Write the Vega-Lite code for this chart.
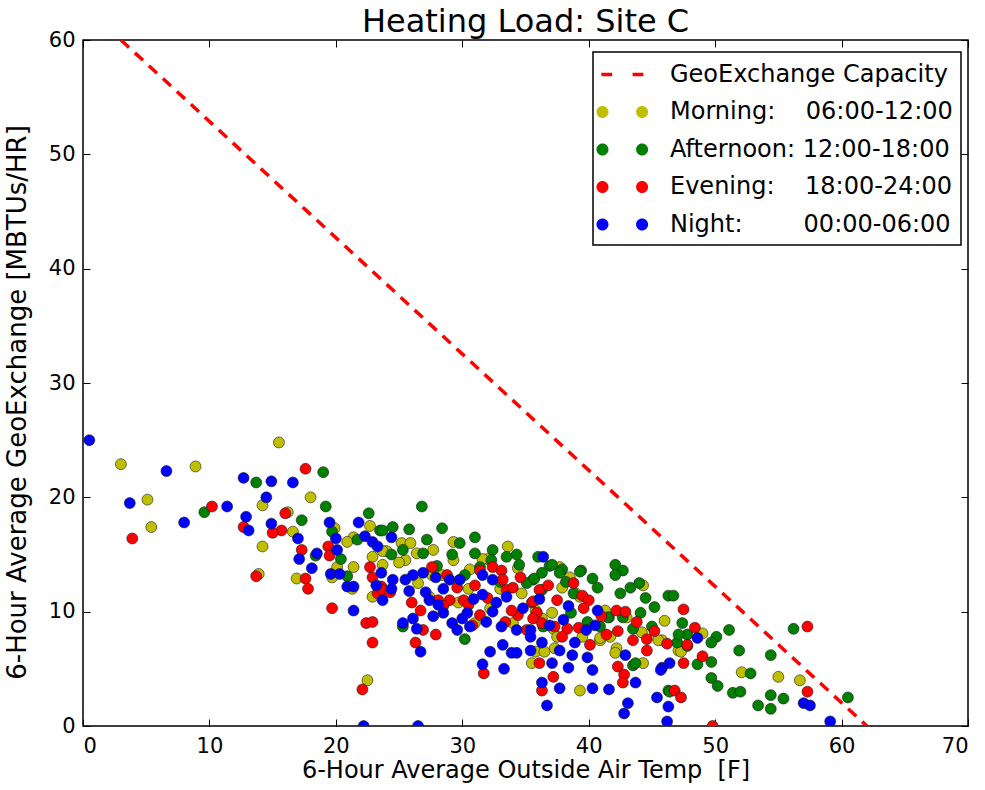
{
  "$schema": "https://vega.github.io/schema/vega-lite/v6.json",
  "width": 885,
  "height": 686,
  "autosize": {"type": "none"},
  "padding": {"left": 83, "top": 40, "right": 17, "bottom": 64},
  "background": "white",
  "title": {"text": "Heating Load: Site C", "font": "DejaVu Sans", "fontSize": 32, "fontWeight": "normal", "color": "black", "anchor": "middle", "offset": -10},
  "config": {
    "view": {"stroke": "black", "strokeWidth": 1.5},
    "axis": {"domain": false, "grid": false, "tickColor": "black", "tickWidth": 1, "tickSize": -7, "labelFont": "DejaVu Sans", "labelFontSize": 21, "labelColor": "black", "titleFont": "DejaVu Sans", "titleFontWeight": "normal", "titleColor": "black"},
    "legend": {"strokeColor": "black", "strokeWidth": 1.5, "fillColor": "white", "padding": 8, "cornerRadius": 0}
  },
  "datasets": {
    "cap": [{"t": 3, "g": 60}, {"t": 62, "g": 0}],
    "pts": [
      {"t":3.0,"g":22.9,"s":"M"},{"t":5.1,"g":19.8,"s":"M"},{"t":5.4,"g":17.4,"s":"M"},{"t":8.9,"g":22.7,"s":"M"},{"t":14.2,"g":19.3,"s":"M"},{"t":14.2,"g":15.7,"s":"M"},{"t":15.5,"g":24.8,"s":"M"},{"t":13.9,"g":13.3,"s":"M"},{"t":18.0,"g":20.0,"s":"M"},{"t":16.2,"g":18.7,"s":"M"},{"t":16.9,"g":12.9,"s":"M"},{"t":16.6,"g":17.0,"s":"M"},{"t":19.9,"g":17.3,"s":"M"},{"t":21.4,"g":16.5,"s":"M"},{"t":22.7,"g":17.5,"s":"M"},{"t":21.4,"g":13.9,"s":"M"},{"t":20.1,"g":13.9,"s":"M"},{"t":19.7,"g":13.0,"s":"M"},{"t":21.3,"g":12.0,"s":"M"},{"t":22.9,"g":11.3,"s":"M"},{"t":22.5,"g":4.0,"s":"M"},{"t":22.9,"g":14.8,"s":"M"},{"t":20.9,"g":16.1,"s":"M"},{"t":25.2,"g":16.0,"s":"M"},{"t":25.9,"g":16.0,"s":"M"},{"t":24.0,"g":15.3,"s":"M"},{"t":25.5,"g":14.5,"s":"M"},{"t":26.4,"g":15.1,"s":"M"},{"t":27.7,"g":15.4,"s":"M"},{"t":29.3,"g":16.1,"s":"M"},{"t":28.4,"g":13.2,"s":"M"},{"t":27.6,"g":13.2,"s":"M"},{"t":33.6,"g":15.7,"s":"M"},{"t":32.0,"g":14.6,"s":"M"},{"t":31.6,"g":14.6,"s":"M"},{"t":34.4,"g":13.8,"s":"M"},{"t":34.7,"g":11.6,"s":"M"},{"t":27.4,"g":11.3,"s":"M"},{"t":29.7,"g":10.8,"s":"M"},{"t":32.2,"g":10.3,"s":"M"},{"t":23.7,"g":15.3,"s":"M"},{"t":23.7,"g":14.1,"s":"M"},{"t":25.0,"g":14.3,"s":"M"},{"t":37.7,"g":13.9,"s":"M"},{"t":44.3,"g":12.3,"s":"M"},{"t":37.9,"g":12.1,"s":"M"},{"t":35.8,"g":10.1,"s":"M"},{"t":41.3,"g":10.1,"s":"M"},{"t":40.9,"g":7.5,"s":"M"},{"t":42.2,"g":6.8,"s":"M"},{"t":45.8,"g":7.5,"s":"M"},{"t":44.2,"g":8.2,"s":"M"},{"t":42.1,"g":6.4,"s":"M"},{"t":35.8,"g":6.5,"s":"M"},{"t":37.3,"g":6.8,"s":"M"},{"t":37.2,"g":8.5,"s":"M"},{"t":36.3,"g":9.4,"s":"M"},{"t":35.5,"g":5.5,"s":"M"},{"t":36.5,"g":6.5,"s":"M"},{"t":39.3,"g":3.1,"s":"M"},{"t":40.9,"g":7.7,"s":"M"},{"t":44.3,"g":5.5,"s":"M"},{"t":45.5,"g":7.5,"s":"M"},{"t":47.1,"g":6.6,"s":"M"},{"t":49.0,"g":8.1,"s":"M"},{"t":47.3,"g":6.5,"s":"M"},{"t":52.1,"g":4.7,"s":"M"},{"t":55.0,"g":4.3,"s":"M"},{"t":56.7,"g":4.0,"s":"M"},{"t":39.3,"g":11.3,"s":"M"},{"t":37.5,"g":7.8,"s":"M"},{"t":37.1,"g":9.9,"s":"M"},{"t":39.5,"g":7.8,"s":"M"},{"t":41.7,"g":7.8,"s":"M"},{"t":29.3,"g":14.5,"s":"M"},{"t":30.6,"g":13.7,"s":"M"},{"t":33.0,"g":12.0,"s":"M"},{"t":38.5,"g":13.0,"s":"M"},{"t":30.5,"g":12.0,"s":"M"},{"t":26.5,"g":12.5,"s":"M"},{"t":31.0,"g":9.0,"s":"M"},{"t":43.0,"g":9.5,"s":"M"},{"t":46.0,"g":9.2,"s":"M"},{"t":34.0,"g":9.0,"s":"M"},{"t":39.0,"g":11.6,"s":"M"},
      {"t":9.6,"g":18.7,"s":"A"},{"t":13.7,"g":21.3,"s":"A"},{"t":19.0,"g":22.2,"s":"A"},{"t":19.2,"g":19.2,"s":"A"},{"t":17.3,"g":18.0,"s":"A"},{"t":19.7,"g":17.0,"s":"A"},{"t":22.6,"g":18.6,"s":"A"},{"t":23.5,"g":17.1,"s":"A"},{"t":20.4,"g":14.6,"s":"A"},{"t":20.9,"g":13.1,"s":"A"},{"t":26.8,"g":19.2,"s":"A"},{"t":24.5,"g":17.4,"s":"A"},{"t":23.7,"g":17.1,"s":"A"},{"t":25.8,"g":17.2,"s":"A"},{"t":28.4,"g":17.3,"s":"A"},{"t":25.3,"g":15.4,"s":"A"},{"t":24.4,"g":15.0,"s":"A"},{"t":26.9,"g":15.1,"s":"A"},{"t":29.2,"g":15.0,"s":"A"},{"t":31.0,"g":16.5,"s":"A"},{"t":32.4,"g":15.4,"s":"A"},{"t":31.0,"g":15.1,"s":"A"},{"t":31.4,"g":13.9,"s":"A"},{"t":32.3,"g":14.5,"s":"A"},{"t":34.3,"g":15.0,"s":"A"},{"t":34.5,"g":14.1,"s":"A"},{"t":36.0,"g":14.8,"s":"A"},{"t":35.6,"g":12.8,"s":"A"},{"t":35.1,"g":12.5,"s":"A"},{"t":30.2,"g":13.2,"s":"A"},{"t":36.9,"g":14.0,"s":"A"},{"t":37.9,"g":13.7,"s":"A"},{"t":39.4,"g":13.6,"s":"A"},{"t":40.3,"g":12.9,"s":"A"},{"t":40.7,"g":12.1,"s":"A"},{"t":42.1,"g":14.1,"s":"A"},{"t":42.7,"g":13.6,"s":"A"},{"t":42.1,"g":13.2,"s":"A"},{"t":43.3,"g":12.1,"s":"A"},{"t":44.5,"g":11.2,"s":"A"},{"t":45.2,"g":10.4,"s":"A"},{"t":46.3,"g":11.4,"s":"A"},{"t":41.6,"g":9.5,"s":"A"},{"t":45.0,"g":8.7,"s":"A"},{"t":43.5,"g":5.3,"s":"A"},{"t":25.3,"g":8.7,"s":"A"},{"t":30.2,"g":7.6,"s":"A"},{"t":35.7,"g":12.9,"s":"A"},{"t":36.3,"g":11.9,"s":"A"},{"t":38.6,"g":9.9,"s":"A"},{"t":36.4,"g":8.7,"s":"A"},{"t":42.7,"g":9.5,"s":"A"},{"t":39.9,"g":9.1,"s":"A"},{"t":40.9,"g":8.7,"s":"A"},{"t":46.3,"g":3.1,"s":"A"},{"t":37.1,"g":14.1,"s":"A"},{"t":37.7,"g":13.4,"s":"A"},{"t":36.3,"g":13.4,"s":"A"},{"t":39.3,"g":13.5,"s":"A"},{"t":42.5,"g":11.6,"s":"A"},{"t":46.7,"g":11.4,"s":"A"},{"t":44.1,"g":9.9,"s":"A"},{"t":41.5,"g":9.5,"s":"A"},{"t":47.4,"g":9.0,"s":"A"},{"t":47.8,"g":8.0,"s":"A"},{"t":47.8,"g":7.0,"s":"A"},{"t":47.0,"g":7.3,"s":"A"},{"t":43.7,"g":5.5,"s":"A"},{"t":38.8,"g":11.6,"s":"A"},{"t":43.5,"g":8.5,"s":"A"},{"t":47.1,"g":8.0,"s":"A"},{"t":50.1,"g":7.8,"s":"A"},{"t":51.1,"g":8.4,"s":"A"},{"t":49.7,"g":7.3,"s":"A"},{"t":48.6,"g":5.4,"s":"A"},{"t":49.7,"g":5.6,"s":"A"},{"t":51.9,"g":6.6,"s":"A"},{"t":49.7,"g":4.2,"s":"A"},{"t":50.2,"g":3.5,"s":"A"},{"t":51.4,"g":2.9,"s":"A"},{"t":52.0,"g":3.0,"s":"A"},{"t":52.8,"g":4.6,"s":"A"},{"t":53.4,"g":1.8,"s":"A"},{"t":54.4,"g":6.2,"s":"A"},{"t":54.4,"g":2.7,"s":"A"},{"t":54.4,"g":1.5,"s":"A"},{"t":55.4,"g":2.4,"s":"A"},{"t":56.2,"g":8.5,"s":"A"},{"t":60.5,"g":2.5,"s":"A"},{"t":46.4,"g":3.0,"s":"A"},{"t":33.5,"g":14.8,"s":"A"},{"t":28.0,"g":14.0,"s":"A"},{"t":27.2,"g":16.3,"s":"A"},{"t":29.8,"g":16.0,"s":"A"},{"t":33.0,"g":12.6,"s":"A"},{"t":38.2,"g":12.6,"s":"A"},{"t":44.0,"g":12.5,"s":"A"},{"t":21.7,"g":16.3,"s":"A"},{"t":18.4,"g":14.9,"s":"A"},
      {"t":17.6,"g":22.5,"s":"E"},{"t":10.2,"g":19.2,"s":"E"},{"t":3.9,"g":16.4,"s":"E"},{"t":16.0,"g":18.6,"s":"E"},{"t":15.7,"g":17.1,"s":"E"},{"t":15.0,"g":16.9,"s":"E"},{"t":12.7,"g":17.4,"s":"E"},{"t":13.7,"g":13.1,"s":"E"},{"t":17.3,"g":15.4,"s":"E"},{"t":17.6,"g":12.9,"s":"E"},{"t":17.8,"g":12.0,"s":"E"},{"t":19.4,"g":15.7,"s":"E"},{"t":19.5,"g":14.9,"s":"E"},{"t":19.7,"g":10.3,"s":"E"},{"t":22.7,"g":13.9,"s":"E"},{"t":22.9,"g":13.0,"s":"E"},{"t":22.4,"g":9.0,"s":"E"},{"t":22.9,"g":9.1,"s":"E"},{"t":22.9,"g":7.3,"s":"E"},{"t":22.1,"g":3.2,"s":"E"},{"t":23.6,"g":12.2,"s":"E"},{"t":23.3,"g":11.6,"s":"E"},{"t":27.6,"g":13.9,"s":"E"},{"t":28.8,"g":13.2,"s":"E"},{"t":23.7,"g":11.9,"s":"E"},{"t":26.0,"g":10.8,"s":"E"},{"t":26.7,"g":10.1,"s":"E"},{"t":28.1,"g":11.0,"s":"E"},{"t":29.0,"g":11.0,"s":"E"},{"t":30.1,"g":11.0,"s":"E"},{"t":29.6,"g":12.1,"s":"E"},{"t":31.4,"g":13.6,"s":"E"},{"t":32.4,"g":13.9,"s":"E"},{"t":33.1,"g":13.6,"s":"E"},{"t":33.2,"g":12.8,"s":"E"},{"t":33.5,"g":11.9,"s":"E"},{"t":34.6,"g":13.0,"s":"E"},{"t":35.5,"g":10.8,"s":"E"},{"t":35.9,"g":9.9,"s":"E"},{"t":34.4,"g":9.7,"s":"E"},{"t":33.9,"g":10.1,"s":"E"},{"t":33.4,"g":9.1,"s":"E"},{"t":27.9,"g":8.0,"s":"E"},{"t":26.9,"g":8.4,"s":"E"},{"t":31.0,"g":12.3,"s":"E"},{"t":31.4,"g":9.7,"s":"E"},{"t":30.5,"g":10.6,"s":"E"},{"t":35.1,"g":8.4,"s":"E"},{"t":24.3,"g":11.7,"s":"E"},{"t":38.8,"g":12.5,"s":"E"},{"t":36.1,"g":11.9,"s":"E"},{"t":35.6,"g":10.9,"s":"E"},{"t":37.5,"g":11.0,"s":"E"},{"t":39.5,"g":11.4,"s":"E"},{"t":40.0,"g":11.0,"s":"E"},{"t":39.6,"g":10.3,"s":"E"},{"t":35.6,"g":9.4,"s":"E"},{"t":36.3,"g":9.0,"s":"E"},{"t":37.3,"g":8.7,"s":"E"},{"t":38.3,"g":8.5,"s":"E"},{"t":39.2,"g":8.6,"s":"E"},{"t":37.9,"g":7.8,"s":"E"},{"t":40.1,"g":7.1,"s":"E"},{"t":41.4,"g":8.0,"s":"E"},{"t":42.3,"g":8.3,"s":"E"},{"t":42.2,"g":10.1,"s":"E"},{"t":42.9,"g":10.0,"s":"E"},{"t":43.8,"g":9.1,"s":"E"},{"t":43.5,"g":7.5,"s":"E"},{"t":44.6,"g":7.6,"s":"E"},{"t":44.6,"g":6.6,"s":"E"},{"t":46.2,"g":7.2,"s":"E"},{"t":47.5,"g":10.2,"s":"E"},{"t":47.8,"g":7.1,"s":"E"},{"t":36.1,"g":5.5,"s":"E"},{"t":42.3,"g":5.2,"s":"E"},{"t":26.3,"g":7.3,"s":"E"},{"t":31.7,"g":4.6,"s":"E"},{"t":37.2,"g":4.3,"s":"E"},{"t":36.3,"g":3.1,"s":"E"},{"t":42.8,"g":4.5,"s":"E"},{"t":42.7,"g":3.8,"s":"E"},{"t":46.8,"g":3.1,"s":"E"},{"t":47.3,"g":2.5,"s":"E"},{"t":47.5,"g":5.5,"s":"E"},{"t":48.4,"g":8.6,"s":"E"},{"t":49.0,"g":6.1,"s":"E"},{"t":49.8,"g":0.0,"s":"E"},{"t":57.3,"g":8.7,"s":"E"},{"t":57.3,"g":3.0,"s":"E"},{"t":30.8,"g":8.8,"s":"E"},{"t":32.0,"g":11.2,"s":"E"},{"t":28.5,"g":10.5,"s":"E"},{"t":34.0,"g":12.1,"s":"E"},{"t":36.8,"g":12.3,"s":"E"},{"t":41.0,"g":9.6,"s":"E"},{"t":45.2,"g":8.3,"s":"E"},
      {"t":0.5,"g":25.0,"s":"N"},{"t":3.7,"g":19.5,"s":"N"},{"t":6.6,"g":22.3,"s":"N"},{"t":8.0,"g":17.8,"s":"N"},{"t":11.4,"g":19.2,"s":"N"},{"t":12.7,"g":21.7,"s":"N"},{"t":12.9,"g":18.3,"s":"N"},{"t":13.1,"g":17.1,"s":"N"},{"t":14.5,"g":20.0,"s":"N"},{"t":14.9,"g":21.4,"s":"N"},{"t":14.9,"g":17.7,"s":"N"},{"t":16.6,"g":21.3,"s":"N"},{"t":17.0,"g":16.4,"s":"N"},{"t":17.1,"g":14.6,"s":"N"},{"t":18.1,"g":13.8,"s":"N"},{"t":18.5,"g":15.1,"s":"N"},{"t":19.5,"g":17.8,"s":"N"},{"t":20.0,"g":16.4,"s":"N"},{"t":20.1,"g":15.4,"s":"N"},{"t":19.6,"g":13.3,"s":"N"},{"t":20.3,"g":13.3,"s":"N"},{"t":20.9,"g":12.2,"s":"N"},{"t":21.4,"g":12.2,"s":"N"},{"t":21.8,"g":17.8,"s":"N"},{"t":22.3,"g":16.6,"s":"N"},{"t":22.9,"g":16.1,"s":"N"},{"t":23.3,"g":15.7,"s":"N"},{"t":23.6,"g":13.4,"s":"N"},{"t":23.2,"g":12.3,"s":"N"},{"t":23.7,"g":11.0,"s":"N"},{"t":21.4,"g":10.1,"s":"N"},{"t":22.2,"g":0.0,"s":"N"},{"t":26.5,"g":0.0,"s":"N"},{"t":24.4,"g":16.5,"s":"N"},{"t":24.5,"g":12.8,"s":"N"},{"t":24.4,"g":12.0,"s":"N"},{"t":25.5,"g":12.8,"s":"N"},{"t":26.1,"g":13.2,"s":"N"},{"t":26.9,"g":13.4,"s":"N"},{"t":25.8,"g":11.8,"s":"N"},{"t":27.1,"g":11.7,"s":"N"},{"t":27.4,"g":11.0,"s":"N"},{"t":28.5,"g":12.0,"s":"N"},{"t":28.1,"g":10.6,"s":"N"},{"t":28.5,"g":9.9,"s":"N"},{"t":29.0,"g":12.8,"s":"N"},{"t":29.8,"g":12.8,"s":"N"},{"t":29.2,"g":9.0,"s":"N"},{"t":30.0,"g":9.4,"s":"N"},{"t":30.6,"g":8.7,"s":"N"},{"t":30.4,"g":9.9,"s":"N"},{"t":31.6,"g":11.5,"s":"N"},{"t":31.6,"g":13.2,"s":"N"},{"t":32.4,"g":12.8,"s":"N"},{"t":32.7,"g":10.8,"s":"N"},{"t":32.4,"g":10.0,"s":"N"},{"t":31.9,"g":9.1,"s":"N"},{"t":33.5,"g":11.3,"s":"N"},{"t":33.1,"g":8.7,"s":"N"},{"t":34.3,"g":8.4,"s":"N"},{"t":26.1,"g":9.4,"s":"N"},{"t":25.3,"g":9.0,"s":"N"},{"t":26.4,"g":8.5,"s":"N"},{"t":27.7,"g":9.6,"s":"N"},{"t":35.4,"g":8.4,"s":"N"},{"t":36.4,"g":14.8,"s":"N"},{"t":36.1,"g":11.1,"s":"N"},{"t":38.4,"g":10.5,"s":"N"},{"t":38.0,"g":9.3,"s":"N"},{"t":36.9,"g":8.8,"s":"N"},{"t":40.7,"g":10.1,"s":"N"},{"t":40.5,"g":8.8,"s":"N"},{"t":38.9,"g":7.3,"s":"N"},{"t":36.3,"g":7.3,"s":"N"},{"t":37.7,"g":6.6,"s":"N"},{"t":38.7,"g":6.2,"s":"N"},{"t":39.9,"g":6.0,"s":"N"},{"t":42.9,"g":6.2,"s":"N"},{"t":37.1,"g":5.5,"s":"N"},{"t":46.4,"g":5.5,"s":"N"},{"t":45.8,"g":5.1,"s":"N"},{"t":35.4,"g":7.8,"s":"N"},{"t":26.7,"g":6.5,"s":"N"},{"t":29.6,"g":8.4,"s":"N"},{"t":31.6,"g":5.4,"s":"N"},{"t":33.3,"g":5.0,"s":"N"},{"t":32.2,"g":6.5,"s":"N"},{"t":33.2,"g":7.1,"s":"N"},{"t":33.9,"g":6.4,"s":"N"},{"t":34.3,"g":6.4,"s":"N"},{"t":35.4,"g":6.6,"s":"N"},{"t":36.3,"g":3.8,"s":"N"},{"t":36.7,"g":1.8,"s":"N"},{"t":37.7,"g":3.3,"s":"N"},{"t":38.4,"g":5.1,"s":"N"},{"t":40.3,"g":4.9,"s":"N"},{"t":40.3,"g":3.3,"s":"N"},{"t":41.6,"g":3.2,"s":"N"},{"t":43.1,"g":2.0,"s":"N"},{"t":42.8,"g":1.1,"s":"N"},{"t":43.7,"g":3.8,"s":"N"},{"t":45.4,"g":2.5,"s":"N"},{"t":46.3,"g":1.7,"s":"N"},{"t":46.2,"g":0.4,"s":"N"},{"t":48.6,"g":7.7,"s":"N"},{"t":45.7,"g":4.9,"s":"N"},{"t":57.0,"g":2.0,"s":"N"},{"t":57.5,"g":1.8,"s":"N"},{"t":59.1,"g":0.4,"s":"N"},{"t":39.8,"g":8.4,"s":"N"},{"t":34.8,"g":10.3,"s":"N"},{"t":30.9,"g":11.1,"s":"N"},{"t":27.9,"g":13.0,"s":"N"}
    ]
  },
  "layer": [
    {
      "data": {"name": "cap"},
      "mark": {"type": "line", "color": "#ff0000", "strokeWidth": 3.5, "strokeDash": [11, 8], "clip": true},
      "encoding": {
        "x": {"field": "t", "type": "quantitative", "scale": {"domain": [0, 70], "nice": false}, "axis": {"orient": "top", "labels": false, "title": null, "values": [0, 10, 20, 30, 40, 50, 60, 70]}},
        "y": {"field": "g", "type": "quantitative", "scale": {"domain": [0, 60], "nice": false}, "axis": {"orient": "right", "labels": false, "title": null, "values": [0, 10, 20, 30, 40, 50, 60]}}
      }
    },
    {
      "data": {"name": "pts"},
      "mark": {"type": "point", "filled": true, "shape": "circle", "size": 120, "stroke": "#1a1a1a", "strokeWidth": 0.6, "opacity": 1, "clip": true},
      "encoding": {
        "x": {"field": "t", "type": "quantitative", "axis": {"orient": "bottom", "title": "6-Hour Average Outside Air Temp\u00a0\u00a0[F]", "titleFontSize": 24, "values": [0, 10, 20, 30, 40, 50, 60, 70], "labelPadding": 16, "titlePadding": 2}},
        "y": {"field": "g", "type": "quantitative", "axis": {"orient": "left", "title": "6-Hour Average GeoExchange [MBTUs/HR]", "titleFontSize": 26, "values": [0, 10, 20, 30, 40, 50, 60], "labelPadding": 15, "titlePadding": 18, "titleY": 362}},
        "fill": {"field": "s", "type": "nominal", "scale": {"domain": ["M", "A", "E", "N"], "range": ["#bfbf00", "#008000", "#ff0000", "#0000ff"]}, "legend": null}
      }
    },
    {
      "data": {"name": "pts"},
      "transform": [{"filter": "false"}],
      "mark": {"type": "point", "filled": true, "opacity": 1},
      "encoding": {
        "x": {"field": "t", "type": "quantitative", "axis": null},
        "y": {"field": "g", "type": "quantitative", "axis": null},
        "color": {"field": "s", "type": "nominal", "scale": {"domain": ["Cap", "M", "A", "E", "N"], "range": ["#ff0000", "#bfbf00", "#008000", "#ff0000", "#0000ff"]}, "legend": {"orient": "none", "legendX": 510, "legendY": 12, "title": null, "labelFont": "DejaVu Sans", "labelFontSize": 24, "labelColor": "black", "symbolSize": 784, "symbolStrokeColor": "#1a1a1a", "symbolStrokeWidth": 0.6, "symbolOpacity": 1, "labelOffset": 40, "rowPadding": 10.5, "labelLimit": 400, "labelExpr": "datum.label == 'Cap' ? 'GeoExchange Capacity' : datum.label == 'M' ? 'Morning:\u00a0\u00a0\u00a0\u00a006:00-12:00' : datum.label == 'A' ? 'Afternoon: 12:00-18:00' : datum.label == 'E' ? 'Evening:\u00a0\u00a0\u00a0\u00a018:00-24:00' : 'Night:\u00a0\u00a0\u00a0\u00a0\u00a0\u00a0\u00a0\u00a000:00-06:00'"}},
        "shape": {"field": "s", "type": "nominal", "scale": {"domain": ["Cap", "M", "A", "E", "N"], "range": ["M-1.01,-0.13H-0.24V0.13H-1.01ZM1.22,-0.13H1.99V0.13H1.22Z", "M-1.36,0A0.43,0.43,0,1,0,-0.5,0A0.43,0.43,0,1,0,-1.36,0ZM1.47,0A0.43,0.43,0,1,0,2.33,0A0.43,0.43,0,1,0,1.47,0Z", "M-1.36,0A0.43,0.43,0,1,0,-0.5,0A0.43,0.43,0,1,0,-1.36,0ZM1.47,0A0.43,0.43,0,1,0,2.33,0A0.43,0.43,0,1,0,1.47,0Z", "M-1.36,0A0.43,0.43,0,1,0,-0.5,0A0.43,0.43,0,1,0,-1.36,0ZM1.47,0A0.43,0.43,0,1,0,2.33,0A0.43,0.43,0,1,0,1.47,0Z", "M-1.36,0A0.43,0.43,0,1,0,-0.5,0A0.43,0.43,0,1,0,-1.36,0ZM1.47,0A0.43,0.43,0,1,0,2.33,0A0.43,0.43,0,1,0,1.47,0Z"]}, "legend": {"orient": "none", "legendX": 510, "legendY": 12, "title": null, "labelFont": "DejaVu Sans", "labelFontSize": 24, "labelColor": "black", "symbolSize": 784, "symbolStrokeColor": "#1a1a1a", "symbolStrokeWidth": 0.6, "symbolOpacity": 1, "labelOffset": 40, "rowPadding": 10.5, "labelLimit": 400, "labelExpr": "datum.label == 'Cap' ? 'GeoExchange Capacity' : datum.label == 'M' ? 'Morning:\u00a0\u00a0\u00a0\u00a006:00-12:00' : datum.label == 'A' ? 'Afternoon: 12:00-18:00' : datum.label == 'E' ? 'Evening:\u00a0\u00a0\u00a0\u00a018:00-24:00' : 'Night:\u00a0\u00a0\u00a0\u00a0\u00a0\u00a0\u00a0\u00a000:00-06:00'"}}
      }
    }
  ]
}
